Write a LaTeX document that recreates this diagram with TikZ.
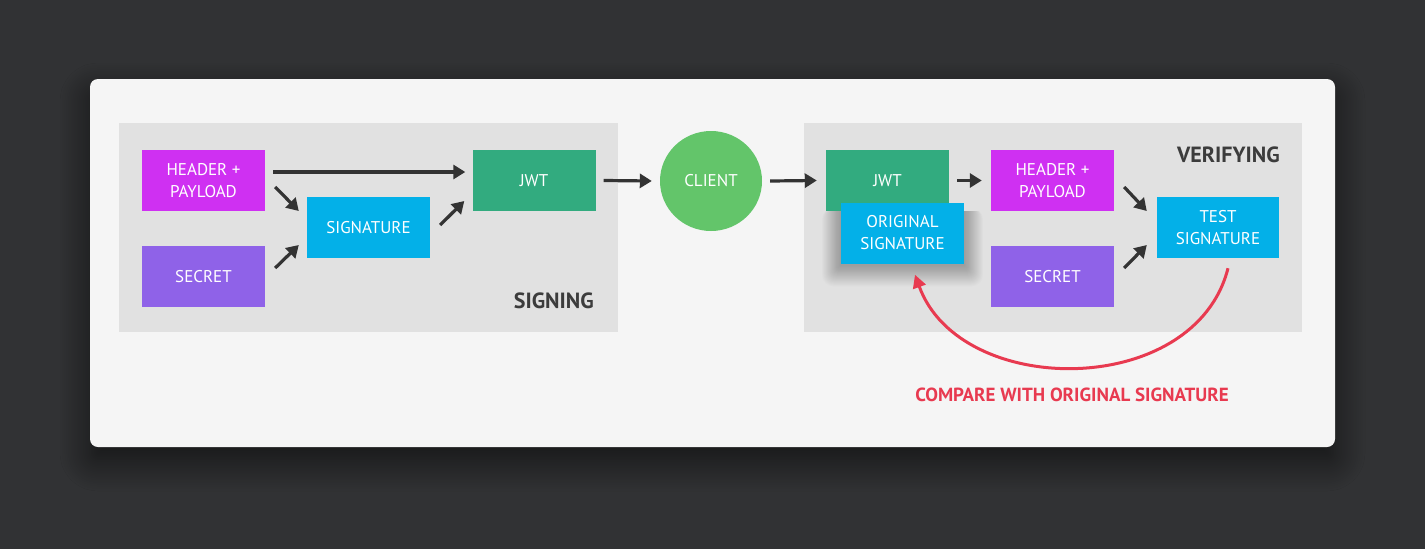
\documentclass[tikz,border=0pt]{standalone}
\usepackage{fontspec}
\setmainfont{PT Sans}
\usetikzlibrary{arrows.meta,shadows.blur,shapes.geometric}
\definecolor{bgdark}{RGB}{49,50,52}
\definecolor{card}{RGB}{245,245,245}
\definecolor{panel}{RGB}{225,225,225}
\definecolor{magentabox}{RGB}{207,48,242}
\definecolor{purplebox}{RGB}{143,98,232}
\definecolor{cyanbox}{RGB}{3,176,232}
\definecolor{jwtgreen}{RGB}{50,171,127}
\definecolor{clientgreen}{RGB}{99,197,106}
\definecolor{arrowgray}{RGB}{51,51,51}
\definecolor{redline}{RGB}{232,58,80}
\definecolor{labelgray}{RGB}{60,60,60}
\tikzset{
  box/.style={rectangle, minimum width=123pt, minimum height=61pt, inner sep=0pt,
    text=white, font=\fontsize{17}{22}\selectfont, align=center},
  arr/.style={draw=arrowgray, line width=3.2pt, -{Triangle[length=12pt,width=14pt]}},
  panelbox/.style={rectangle, fill=panel, inner sep=0pt},
  sectionlabel/.style={text=labelgray, font=\bfseries\fontsize{22}{26}\selectfont, inner sep=0pt},
}
\begin{document}
\begin{tikzpicture}[x=1pt,y=-1pt]
\useasboundingbox (0,0) rectangle (1425,549);
\fill[bgdark] (0,0) rectangle (1425,549);
% card
\node[rectangle, rounded corners=8pt, fill=card, minimum width=1245pt, minimum height=368pt, inner sep=0pt,
  blur shadow={shadow blur steps=20, shadow xshift=0pt, shadow yshift=-14pt, shadow blur radius=30pt, shadow opacity=60}]
  (card) at (712.5,263) {};
% panels
\node[panelbox, minimum width=499pt, minimum height=209pt] (signpanel) at (368.5,227.5) {};
\node[panelbox, minimum width=498pt, minimum height=209pt] (verpanel) at (1053,227.5) {};
\node[sectionlabel, anchor=base east] (signlabel) at (594,308) {SIGNING};
\node[sectionlabel, anchor=base east] (verlabel) at (1280,162) {VERIFYING};
% signing
\node[box, fill=magentabox] (hp1) at (203.5,180.5) {HEADER +\\PAYLOAD};
\node[box, fill=purplebox] (sec1) at (203.5,276.5) {SECRET};
\node[box, fill=cyanbox] (sig1) at (368.5,227.5) {SIGNATURE};
\node[box, fill=jwtgreen] (jwt1) at (534,180.5) {JWT};
% client
\node[ellipse, fill=clientgreen, minimum width=102pt, minimum height=100pt, inner sep=0pt,
  text=white, font=\fontsize{17}{22}\selectfont] (client) at (711,181) {CLIENT};
% verifying
\node[box, fill=jwtgreen] (jwt2) at (887.5,180.5) {JWT};
% soft shadow under original signature
\begin{scope}
\clip (790,211) rectangle (1000,330);
\foreach \s in {1,2,...,24} {
  \fill[black, opacity=0.011, rounded corners=\s*0.5pt] (841-\s*0.8, 203+\s*0.2) rectangle (964+\s*0.8, 265+\s*0.9);
}
\end{scope}
\node[box, fill=cyanbox] (osig) at (902.5,233) {ORIGINAL\\SIGNATURE};
\node[box, fill=magentabox] (hp2) at (1052.5,180.5) {HEADER +\\PAYLOAD};
\node[box, fill=purplebox] (sec2) at (1052.5,276.5) {SECRET};
\node[box, fill=cyanbox, minimum width=122pt] (tsig) at (1218,227.5) {TEST\\SIGNATURE};
% arrows signing
\draw[arr] ([xshift=8pt,yshift=8.5pt]hp1.east) -- ([xshift=-7pt,yshift=8.5pt]jwt1.west);
\draw[arr] ([xshift=10pt,yshift=-6.5pt]hp1.east) -- ([xshift=-8pt,yshift=16.5pt]sig1.west);
\draw[arr] ([xshift=10pt,yshift=8.5pt]sec1.east) -- ([xshift=-8pt,yshift=-17.5pt]sig1.west);
\draw[arr] ([xshift=10pt,yshift=2.5pt]sig1.east) -- ([xshift=-8pt,yshift=-20.5pt]jwt1.west);
% main flow
\draw[arr] ([xshift=8pt]jwt1.east) -- ([xshift=-8pt]client.west);
\draw[arr] ([xshift=8pt]client.east) -- ([xshift=-9pt]jwt2.west);
\draw[arr] ([xshift=8pt]jwt2.east) -- ([xshift=-9pt]hp2.west);
% arrows verifying
\draw[arr] ([xshift=10pt,yshift=-6.5pt]hp2.east) -- ([xshift=-10pt,yshift=16.5pt]tsig.west);
\draw[arr] ([xshift=10pt,yshift=8.5pt]sec2.east) -- ([xshift=-10pt,yshift=-17.5pt]tsig.west);
% compare curve
\coordinate (cstart) at ([xshift=10pt,yshift=-10pt]tsig.south);
\coordinate (cend) at ([xshift=12.5pt,yshift=-11pt]osig.south);
\draw[draw=redline, line width=3pt, -{Triangle[length=13pt,width=13pt]}]
  (cstart) .. controls (1195,399) and (960,399) .. (cend);
\node[text=redline, font=\bfseries\fontsize{19}{22}\selectfont, anchor=base, inner sep=0pt] (cmp) at (1072,401) {COMPARE WITH ORIGINAL SIGNATURE};
\end{tikzpicture}
\end{document}
